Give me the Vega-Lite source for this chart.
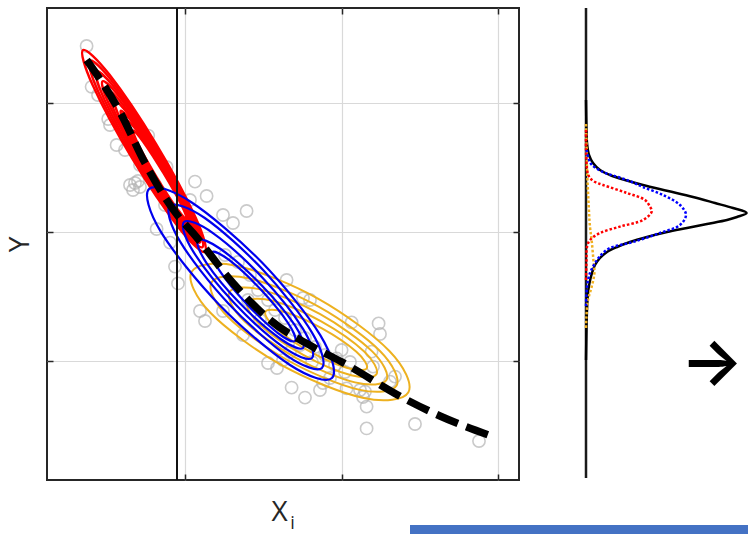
{
  "$schema": "https://vega.github.io/schema/vega-lite/v6.json",
  "width": 472,
  "height": 472,
  "autosize": {"type": "none"},
  "padding": {"left": 47, "top": 8, "right": 229, "bottom": 54},
  "background": "white",
  "config": {"view": {"stroke": "#262626", "strokeWidth": 2}, "font": "Open Sans"},
  "datasets": {
    "one": [{}],
    "pts": [
      {"u":19.8,"v":217},{"u":22.3,"v":196.6},{"u":30.6,"v":180.5},{"u":34.8,"v":167.5},{"u":50.6,"v":172.2},
      {"u":41.5,"v":147.5},{"u":44,"v":148.5},{"u":46.5,"v":146.5},{"u":45.5,"v":149.5},{"u":43,"v":145},
      {"u":59.8,"v":156.5},{"u":74,"v":149.2},{"u":79.8,"v":142},{"u":99.8,"v":134.5},{"u":54.8,"v":125.5},
      {"u":61.5,"v":118.7},{"u":64,"v":106.7},{"u":65.5,"v":98.3},{"u":76.5,"v":84.5},{"u":79,"v":79.5},
      {"u":71.5,"v":140},{"u":88,"v":132.5},{"u":93,"v":128.5},{"u":119.8,"v":100},{"u":128,"v":91},
      {"u":131.5,"v":90},{"u":98,"v":72.5},{"u":88,"v":84.5},{"u":152.3,"v":78.8},{"u":165.8,"v":78.3},
      {"u":166.5,"v":73},{"u":162.3,"v":64.2},{"u":163,"v":56.7},{"u":171.5,"v":49.2},{"u":174,"v":51.7},
      {"u":159,"v":44.2},{"u":158,"v":41.5},{"u":159.8,"v":36.7},{"u":159.8,"v":25.8},{"u":184,"v":28},
      {"u":216,"v":19.5},{"u":149.8,"v":45.8},{"u":156.5,"v":45},{"u":147.3,"v":65},{"u":144.8,"v":60.8},
      {"u":122.3,"v":46.2},{"u":129,"v":41.2},{"u":110.5,"v":58.5},{"u":115,"v":56},{"u":138,"v":48.5},
      {"u":136.5,"v":45},{"u":118,"v":60},{"u":89,"v":112.5},{"u":95.5,"v":109},{"u":101.5,"v":102.5},
      {"u":105.5,"v":95},{"u":110.5,"v":90},{"u":114,"v":85},{"u":119,"v":81},{"u":124,"v":75},
      {"u":129,"v":71},{"u":134,"v":66.5},{"u":139,"v":62.5},{"u":144,"v":57.5},{"u":149,"v":54},
      {"u":126.5,"v":67.5},{"u":121.5,"v":64},{"u":132.5,"v":59},{"u":141.5,"v":51},{"u":151.5,"v":59},
      {"u":106.5,"v":80},{"u":100.5,"v":90},{"u":25.5,"v":192.5},{"u":31.5,"v":177.5},{"u":39,"v":165},
      {"u":46.5,"v":157.5},{"u":54,"v":147.5},{"u":59,"v":137.5},{"u":64,"v":132.5}
    ],
    "ell": [
      {"g":"O1","c":"C","k":0,"u":180.7,"v":43.9},{"g":"O1","c":"C","k":1,"u":171.3,"v":64.4},{"g":"O1","c":"C","k":2,"u":135.7,"v":90.6},{"g":"O1","c":"C","k":3,"u":94.7,"v":107.1},{"g":"O1","c":"C","k":4,"u":72.3,"v":104.1},{"g":"O1","c":"C","k":5,"u":81.7,"v":83.6},{"g":"O1","c":"C","k":6,"u":117.3,"v":57.4},{"g":"O1","c":"C","k":7,"u":158.3,"v":41.0},
      {"g":"O2","c":"C","k":0,"u":174.8,"v":47.2},{"g":"O2","c":"C","k":1,"u":166.6,"v":64.4},{"g":"O2","c":"C","k":2,"u":136.0,"v":86.6},{"g":"O2","c":"C","k":3,"u":101.1,"v":100.8},{"g":"O2","c":"C","k":4,"u":82.2,"v":98.8},{"g":"O2","c":"C","k":5,"u":90.4,"v":81.6},{"g":"O2","c":"C","k":6,"u":121.0,"v":59.5},{"g":"O2","c":"C","k":7,"u":155.9,"v":45.2},
      {"g":"O3","c":"C","k":0,"u":169.8,"v":50.1},{"g":"O3","c":"C","k":1,"u":162.6,"v":64.3},{"g":"O3","c":"C","k":2,"u":136.6,"v":82.9},{"g":"O3","c":"C","k":3,"u":107.0,"v":95.2},{"g":"O3","c":"C","k":4,"u":91.2,"v":93.9},{"g":"O3","c":"C","k":5,"u":98.4,"v":79.7},{"g":"O3","c":"C","k":6,"u":124.4,"v":61.1},{"g":"O3","c":"C","k":7,"u":154.0,"v":48.8},
      {"g":"O4","c":"C","k":0,"u":164.8,"v":53.0},{"g":"O4","c":"C","k":1,"u":158.6,"v":64.2},{"g":"O4","c":"C","k":2,"u":137.1,"v":79.3},{"g":"O4","c":"C","k":3,"u":112.9,"v":89.6},{"g":"O4","c":"C","k":4,"u":100.2,"v":89.0},{"g":"O4","c":"C","k":5,"u":106.4,"v":77.8},{"g":"O4","c":"C","k":6,"u":127.9,"v":62.7},{"g":"O4","c":"C","k":7,"u":152.1,"v":52.4},
      {"g":"O5","c":"C","k":0,"u":159.9,"v":55.9},{"g":"O5","c":"C","k":1,"u":154.7,"v":64.1},{"g":"O5","c":"C","k":2,"u":137.7,"v":75.7},{"g":"O5","c":"C","k":3,"u":118.8,"v":84.0},{"g":"O5","c":"C","k":4,"u":109.2,"v":84.1},{"g":"O5","c":"C","k":5,"u":114.3,"v":76.0},{"g":"O5","c":"C","k":6,"u":131.3,"v":64.3},{"g":"O5","c":"C","k":7,"u":150.2,"v":56.0},
      {"g":"R1","c":"A","k":0,"u":79.0,"v":114.0},{"g":"R1","c":"A","k":1,"u":74.3,"v":131.3},{"g":"R1","c":"A","k":2,"u":54.5,"v":168.1},{"g":"R1","c":"A","k":3,"u":31.2,"v":202.7},{"g":"R1","c":"A","k":4,"u":18.0,"v":215.0},{"g":"R1","c":"A","k":5,"u":22.7,"v":197.7},{"g":"R1","c":"A","k":6,"u":42.5,"v":160.9},{"g":"R1","c":"A","k":7,"u":65.8,"v":126.3},
      {"g":"R15","c":"A","k":0,"u":77.7,"v":116.4},{"g":"R15","c":"A","k":1,"u":73.2,"v":132.3},{"g":"R15","c":"A","k":2,"u":54.9,"v":166.2},{"g":"R15","c":"A","k":3,"u":33.4,"v":198.3},{"g":"R15","c":"A","k":4,"u":21.4,"v":209.7},{"g":"R15","c":"A","k":5,"u":25.8,"v":193.8},{"g":"R15","c":"A","k":6,"u":44.2,"v":159.8},{"g":"R15","c":"A","k":7,"u":65.7,"v":127.8},
      {"g":"R2","c":"A","k":0,"u":76.4,"v":118.7},{"g":"R2","c":"A","k":1,"u":72.1,"v":133.3},{"g":"R2","c":"A","k":2,"u":55.2,"v":164.3},{"g":"R2","c":"A","k":3,"u":35.6,"v":193.8},{"g":"R2","c":"A","k":4,"u":24.7,"v":204.3},{"g":"R2","c":"A","k":5,"u":28.9,"v":189.8},{"g":"R2","c":"A","k":6,"u":45.8,"v":158.7},{"g":"R2","c":"A","k":7,"u":65.5,"v":129.2},
      {"g":"R25","c":"A","k":0,"u":75.3,"v":120.7},{"g":"R25","c":"A","k":1,"u":71.3,"v":134.0},{"g":"R25","c":"A","k":2,"u":55.7,"v":162.5},{"g":"R25","c":"A","k":3,"u":37.7,"v":189.7},{"g":"R25","c":"A","k":4,"u":27.8,"v":199.4},{"g":"R25","c":"A","k":5,"u":31.8,"v":186.1},{"g":"R25","c":"A","k":6,"u":47.4,"v":157.5},{"g":"R25","c":"A","k":7,"u":65.4,"v":130.4},
      {"g":"R3","c":"A","k":0,"u":74.2,"v":122.6},{"g":"R3","c":"A","k":1,"u":70.4,"v":134.6},{"g":"R3","c":"A","k":2,"u":56.1,"v":160.7},{"g":"R3","c":"A","k":3,"u":39.7,"v":185.5},{"g":"R3","c":"A","k":4,"u":30.8,"v":194.5},{"g":"R3","c":"A","k":5,"u":34.6,"v":182.4},{"g":"R3","c":"A","k":6,"u":48.9,"v":156.3},{"g":"R3","c":"A","k":7,"u":65.3,"v":131.5},
      {"g":"R35","c":"A","k":0,"u":73.2,"v":124.5},{"g":"R35","c":"A","k":1,"u":69.6,"v":135.3},{"g":"R35","c":"A","k":2,"u":56.6,"v":158.9},{"g":"R35","c":"A","k":3,"u":41.8,"v":181.4},{"g":"R35","c":"A","k":4,"u":33.9,"v":189.6},{"g":"R35","c":"A","k":5,"u":37.4,"v":178.7},{"g":"R35","c":"A","k":6,"u":50.4,"v":155.2},{"g":"R35","c":"A","k":7,"u":65.2,"v":132.7},
      {"g":"R4","c":"A","k":0,"u":72.1,"v":126.4},{"g":"R4","c":"A","k":1,"u":68.8,"v":136.0},{"g":"R4","c":"A","k":2,"u":57.1,"v":157.1},{"g":"R4","c":"A","k":3,"u":43.9,"v":177.2},{"g":"R4","c":"A","k":4,"u":36.9,"v":184.6},{"g":"R4","c":"A","k":5,"u":40.2,"v":175.0},{"g":"R4","c":"A","k":6,"u":51.9,"v":154.0},{"g":"R4","c":"A","k":7,"u":65.1,"v":133.8},
      {"g":"R45","c":"A","k":0,"u":71.0,"v":128.3},{"g":"R45","c":"A","k":1,"u":68.0,"v":136.8},{"g":"R45","c":"A","k":2,"u":57.7,"v":155.3},{"g":"R45","c":"A","k":3,"u":46.1,"v":173.1},{"g":"R45","c":"A","k":4,"u":40.0,"v":179.7},{"g":"R45","c":"A","k":5,"u":43.0,"v":171.3},{"g":"R45","c":"A","k":6,"u":53.4,"v":152.8},{"g":"R45","c":"A","k":7,"u":65.0,"v":134.9},
      {"g":"R5","c":"A","k":0,"u":69.9,"v":130.2},{"g":"R5","c":"A","k":1,"u":67.2,"v":137.5},{"g":"R5","c":"A","k":2,"u":58.2,"v":153.5},{"g":"R5","c":"A","k":3,"u":48.2,"v":169.0},{"g":"R5","c":"A","k":4,"u":43.1,"v":174.8},{"g":"R5","c":"A","k":5,"u":45.8,"v":167.5},{"g":"R5","c":"A","k":6,"u":54.8,"v":151.5},{"g":"R5","c":"A","k":7,"u":64.8,"v":136.0},
      {"g":"B1","c":"B","k":0,"u":142.5,"v":51.0},{"g":"B1","c":"B","k":1,"u":136.7,"v":72.3},{"g":"B1","c":"B","k":2,"u":107.5,"v":108.7},{"g":"B1","c":"B","k":3,"u":72.0,"v":139.0},{"g":"B1","c":"B","k":4,"u":51.0,"v":145.5},{"g":"B1","c":"B","k":5,"u":56.8,"v":124.3},{"g":"B1","c":"B","k":6,"u":86.0,"v":87.8},{"g":"B1","c":"B","k":7,"u":121.5,"v":57.5},
      {"g":"B2","c":"B","k":0,"u":137.5,"v":56.0},{"g":"B2","c":"B","k":1,"u":132.5,"v":73.7},{"g":"B2","c":"B","k":2,"u":108.3,"v":104.7},{"g":"B2","c":"B","k":3,"u":78.9,"v":131.0},{"g":"B2","c":"B","k":4,"u":61.5,"v":137.0},{"g":"B2","c":"B","k":5,"u":66.5,"v":119.3},{"g":"B2","c":"B","k":6,"u":90.7,"v":88.3},{"g":"B2","c":"B","k":7,"u":120.1,"v":62.1},
      {"g":"B3","c":"B","k":0,"u":132.5,"v":61.0},{"g":"B3","c":"B","k":1,"u":128.0,"v":75.6},{"g":"B3","c":"B","k":2,"u":107.4,"v":101.5},{"g":"B3","c":"B","k":3,"u":82.8,"v":123.6},{"g":"B3","c":"B","k":4,"u":68.5,"v":129.0},{"g":"B3","c":"B","k":5,"u":73.0,"v":114.4},{"g":"B3","c":"B","k":6,"u":93.6,"v":88.5},{"g":"B3","c":"B","k":7,"u":118.2,"v":66.4},
      {"g":"B4","c":"B","k":0,"u":128.0,"v":66.0},{"g":"B4","c":"B","k":1,"u":123.9,"v":77.4},{"g":"B4","c":"B","k":2,"u":106.8,"v":97.9},{"g":"B4","c":"B","k":3,"u":86.8,"v":115.5},{"g":"B4","c":"B","k":4,"u":75.5,"v":120.0},{"g":"B4","c":"B","k":5,"u":79.7,"v":108.6},{"g":"B4","c":"B","k":6,"u":96.7,"v":88.1},{"g":"B4","c":"B","k":7,"u":116.8,"v":70.5},
      {"g":"B5","c":"B","k":0,"u":124.0,"v":69.5},{"g":"B5","c":"B","k":1,"u":120.5,"v":78.5},{"g":"B5","c":"B","k":2,"u":106.9,"v":95.2},{"g":"B5","c":"B","k":3,"u":91.2,"v":109.9},{"g":"B5","c":"B","k":4,"u":82.5,"v":114.0},{"g":"B5","c":"B","k":5,"u":86.0,"v":105.1},{"g":"B5","c":"B","k":6,"u":99.6,"v":88.3},{"g":"B5","c":"B","k":7,"u":115.3,"v":73.6}
    ],
    "path": [
      {"k":0,"u":19.85,"v":210},{"k":1,"u":36.5,"v":184},{"k":2,"u":49,"v":158.5},{"k":3,"u":65.5,"v":132},
      {"k":4,"u":73,"v":123.5},{"k":5,"u":93,"v":98.5},{"k":6,"u":111.5,"v":80},{"k":7,"u":133,"v":66.5},
      {"k":8,"u":146.5,"v":59.5},{"k":9,"u":180,"v":40},{"k":10,"u":196.5,"v":32},{"k":11,"u":223.5,"v":21.5}
    ],
    "dens": [
      {"s":"K","k":0,"v":190,"d":0},{"s":"K","k":1,"v":175,"d":0.25},{"s":"K","k":2,"v":168.5,"d":0.5},{"s":"K","k":3,"v":162.5,"d":1.5},
      {"s":"K","k":4,"v":158.5,"d":3.5},{"s":"K","k":5,"v":155,"d":7},{"s":"K","k":6,"v":152.5,"d":12},{"s":"K","k":7,"v":150,"d":19.5},
      {"s":"K","k":8,"v":147.5,"d":28.5},{"s":"K","k":9,"v":144.5,"d":41},{"s":"K","k":10,"v":141.5,"d":53.5},{"s":"K","k":11,"v":138.5,"d":64.5},
      {"s":"K","k":12,"v":136,"d":73.5},{"s":"K","k":13,"v":133.5,"d":80.3},{"s":"K","k":14,"v":131.5,"d":75.5},{"s":"K","k":15,"v":130,"d":70.5},
      {"s":"K","k":16,"v":128,"d":60.5},{"s":"K","k":17,"v":126,"d":50.5},{"s":"K","k":18,"v":124,"d":40.5},{"s":"K","k":19,"v":121.5,"d":30.5},
      {"s":"K","k":20,"v":119,"d":22},{"s":"K","k":21,"v":116.5,"d":15.5},{"s":"K","k":22,"v":114,"d":10.5},{"s":"K","k":23,"v":111,"d":7},
      {"s":"K","k":24,"v":107.5,"d":4.5},{"s":"K","k":25,"v":103.5,"d":3},{"s":"K","k":26,"v":98.5,"d":1.75},{"s":"K","k":27,"v":93.5,"d":1},
      {"s":"K","k":28,"v":85,"d":0.5},{"s":"K","k":29,"v":75,"d":0.25},{"s":"K","k":30,"v":60,"d":0},
      {"s":"B","k":0,"v":165,"d":0.25},{"s":"B","k":1,"v":160,"d":1.5},{"s":"B","k":2,"v":157.5,"d":3},{"s":"B","k":3,"v":154,"d":8.5},
      {"s":"B","k":4,"v":151.5,"d":16},{"s":"B","k":5,"v":149,"d":23},{"s":"B","k":6,"v":146.5,"d":28.5},{"s":"B","k":7,"v":142.5,"d":38.5},
      {"s":"B","k":8,"v":137.5,"d":47},{"s":"B","k":9,"v":132.5,"d":50},{"s":"B","k":10,"v":127.5,"d":47},{"s":"B","k":11,"v":123.5,"d":37},
      {"s":"B","k":12,"v":119,"d":23.5},{"s":"B","k":13,"v":116,"d":12},{"s":"B","k":14,"v":113,"d":8},{"s":"B","k":15,"v":110,"d":5.5},
      {"s":"B","k":16,"v":103.5,"d":2},{"s":"B","k":17,"v":96.5,"d":0.5},{"s":"B","k":18,"v":86.5,"d":0},
      {"s":"A","k":0,"v":175,"d":0},{"s":"A","k":1,"v":165,"d":0},{"s":"A","k":2,"v":160,"d":0.2},{"s":"A","k":3,"v":156.5,"d":0.4},
      {"s":"A","k":4,"v":153,"d":1},{"s":"A","k":5,"v":151,"d":2},{"s":"A","k":6,"v":149,"d":4.5},{"s":"A","k":7,"v":147.5,"d":8.5},
      {"s":"A","k":8,"v":143.5,"d":20.5},{"s":"A","k":9,"v":140,"d":29.5},{"s":"A","k":10,"v":137,"d":31.8},{"s":"A","k":11,"v":134.2,"d":32.85},
      {"s":"A","k":12,"v":130,"d":28.5},{"s":"A","k":13,"v":126.7,"d":17},{"s":"A","k":14,"v":123.5,"d":7},{"s":"A","k":15,"v":120,"d":2},
      {"s":"A","k":16,"v":116.5,"d":0.5},{"s":"A","k":17,"v":110,"d":0.25},{"s":"A","k":18,"v":100,"d":0},
      {"s":"C","k":0,"v":178,"d":0},{"s":"C","k":1,"v":166.5,"d":0.3},{"s":"C","k":2,"v":156.5,"d":0.5},{"s":"C","k":3,"v":140,"d":1.2},
      {"s":"C","k":4,"v":126.5,"d":2},{"s":"C","k":5,"v":120,"d":2.8},{"s":"C","k":6,"v":110,"d":3.7},{"s":"C","k":7,"v":103.5,"d":4.2},
      {"s":"C","k":8,"v":96.5,"d":2.8},{"s":"C","k":9,"v":90,"d":1},{"s":"C","k":10,"v":81.5,"d":0.2},{"s":"C","k":11,"v":75,"d":0}
    ]
  },
  "layer": [
    {
      "layer": [
        {
          "data": {"name": "pts"},
          "mark": {"type": "point", "shape": "circle", "filled": false, "color": "#b4b4b4", "strokeWidth": 1.6, "size": 150},
          "encoding": {
            "x": {"field": "u", "type": "quantitative", "scale": {"domain": [0, 236], "nice": false, "zero": false},
              "axis": {"orient": "bottom", "values": [68.75, 147.5, 225.5], "labels": false, "domain": false, "ticks": true, "tickSize": -6, "tickWidth": 1.5, "tickColor": "#262626",
                "grid": true, "gridColor": "#d9d9d9", "gridWidth": 1.2, "title": "X", "titleFont": "Open Sans", "titleFontSize": 28, "titleFontWeight": "normal", "titleColor": "#262626",
                "titleX": 232, "titleY": 40, "titleAlign": "center", "titleBaseline": "alphabetic"}},
            "y": {"field": "v", "type": "quantitative", "scale": {"domain": [0, 236], "nice": false, "zero": false},
              "axis": {"orient": "left", "values": [59.75, 124.25, 188.5], "labels": false, "domain": false, "ticks": true, "tickSize": -6, "tickWidth": 1.5, "tickColor": "#262626",
                "grid": true, "gridColor": "#d9d9d9", "gridWidth": 1.2, "title": "Y", "titleFont": "Open Sans", "titleFontSize": 28, "titleFontWeight": "normal", "titleColor": "#262626",
                "titleX": -27, "titleY": 236, "titleAngle": -90, "titleAlign": "center", "titleBaseline": "middle"}}
          }
        },
        {
          "data": {"name": "ell"},
          "transform": [{"filter": "datum.c === 'C'"}],
          "mark": {"type": "line", "interpolate": "cardinal-closed", "color": "#edb120", "strokeWidth": 2},
          "encoding": {
            "x": {"field": "u", "type": "quantitative", "axis": null},
            "y": {"field": "v", "type": "quantitative", "axis": null},
            "detail": {"field": "g"},
            "order": {"field": "k", "type": "quantitative"}
          }
        },
        {
          "data": {"name": "ell"},
          "transform": [{"filter": "datum.c === 'A'"}],
          "mark": {"type": "line", "interpolate": "cardinal-closed", "color": "#ff0000", "strokeWidth": 2.4},
          "encoding": {
            "x": {"field": "u", "type": "quantitative", "axis": null},
            "y": {"field": "v", "type": "quantitative", "axis": null},
            "detail": {"field": "g"},
            "order": {"field": "k", "type": "quantitative"}
          }
        },
        {
          "data": {"name": "ell"},
          "transform": [{"filter": "datum.c === 'B'"}],
          "mark": {"type": "line", "interpolate": "cardinal-closed", "color": "#0000ee", "strokeWidth": 2.2},
          "encoding": {
            "x": {"field": "u", "type": "quantitative", "axis": null},
            "y": {"field": "v", "type": "quantitative", "axis": null},
            "detail": {"field": "g"},
            "order": {"field": "k", "type": "quantitative"}
          }
        },
        {
          "data": {"name": "one"},
          "mark": {"type": "rule", "color": "#111111", "strokeWidth": 2},
          "encoding": {
            "x": {"datum": 65, "type": "quantitative",
              "axis": {"orient": "top", "values": [68.75, 147.5, 225.5], "labels": false, "domain": false, "ticks": true, "tickSize": -6, "tickWidth": 1.5, "tickColor": "#262626", "grid": false, "title": null}},
            "y": {"datum": 0, "type": "quantitative",
              "axis": {"orient": "right", "values": [59.75, 124.25, 188.5], "labels": false, "domain": false, "ticks": true, "tickSize": -6, "tickWidth": 1.5, "tickColor": "#262626", "grid": false, "title": null}},
            "y2": {"datum": 236}
          }
        },
        {
          "data": {"name": "path"},
          "mark": {"type": "line", "interpolate": "monotone", "color": "#000000", "strokeWidth": 7.5, "strokeDash": [23, 9], "strokeCap": "butt"},
          "encoding": {
            "x": {"field": "u", "type": "quantitative", "axis": null},
            "y": {"field": "v", "type": "quantitative", "axis": null},
            "order": {"field": "k", "type": "quantitative"}
          }
        },
        {
          "data": {"name": "one"},
          "mark": {"type": "text", "text": "i", "font": "Open Sans", "fontSize": 18, "color": "#262626", "align": "center", "baseline": "bottom"},
          "encoding": {
            "x": {"datum": 122.75, "type": "quantitative", "axis": null},
            "y": {"datum": -26.6, "type": "quantitative", "axis": null}
          }
        }
      ],
      "resolve": {"axis": {"x": "independent", "y": "independent"}}
    },
    {
      "layer": [
        {
          "data": {"name": "one"},
          "mark": {"type": "rule", "color": "#1a1a1a", "strokeWidth": 2.5},
          "encoding": {
            "x": {"datum": 0, "type": "quantitative", "scale": {"domain": [-269.5, -33.5], "nice": false, "zero": false}, "axis": null},
            "y": {"datum": 1, "type": "quantitative", "scale": {"domain": [0, 236], "nice": false, "zero": false}, "axis": null},
            "y2": {"datum": 236}
          }
        },
        {
          "data": {"name": "dens"},
          "transform": [{"filter": "datum.s === 'K'"}],
          "mark": {"type": "line", "interpolate": "catmull-rom", "color": "#000000", "strokeWidth": 2.5},
          "encoding": {
            "x": {"field": "d", "type": "quantitative", "axis": null},
            "y": {"field": "v", "type": "quantitative", "axis": null},
            "order": {"field": "k", "type": "quantitative"}
          }
        },
        {
          "data": {"name": "dens"},
          "transform": [{"filter": "datum.s === 'C'"}],
          "mark": {"type": "line", "interpolate": "catmull-rom", "color": "#f0b020", "strokeWidth": 2.5, "strokeDash": [2.5, 2]},
          "encoding": {
            "x": {"field": "d", "type": "quantitative", "axis": null},
            "y": {"field": "v", "type": "quantitative", "axis": null},
            "order": {"field": "k", "type": "quantitative"}
          }
        },
        {
          "data": {"name": "dens"},
          "transform": [{"filter": "datum.s === 'A'"}],
          "mark": {"type": "line", "interpolate": "catmull-rom", "color": "#ff0000", "strokeWidth": 2.5, "strokeDash": [2.5, 2]},
          "encoding": {
            "x": {"field": "d", "type": "quantitative", "axis": null},
            "y": {"field": "v", "type": "quantitative", "axis": null},
            "order": {"field": "k", "type": "quantitative"}
          }
        },
        {
          "data": {"name": "dens"},
          "transform": [{"filter": "datum.s === 'B'"}],
          "mark": {"type": "line", "interpolate": "catmull-rom", "color": "#0000ff", "strokeWidth": 2.5, "strokeDash": [2.5, 2]},
          "encoding": {
            "x": {"field": "d", "type": "quantitative", "axis": null},
            "y": {"field": "v", "type": "quantitative", "axis": null},
            "order": {"field": "k", "type": "quantitative"}
          }
        },
        {
          "data": {"name": "one"},
          "mark": {"type": "text", "text": "→", "font": "Inter", "fontSize": 66, "fontWeight": 600, "color": "#000000", "align": "center", "baseline": "middle"},
          "encoding": {
            "x": {"datum": 63, "type": "quantitative", "axis": null},
            "y": {"datum": 58, "type": "quantitative", "axis": null}
          }
        },
        {
          "data": {"name": "one"},
          "mark": {"type": "rect", "color": "#4472c4"},
          "encoding": {
            "x": {"datum": -88, "type": "quantitative", "axis": null},
            "x2": {"datum": 81},
            "y": {"datum": -22.5, "type": "quantitative", "axis": null},
            "y2": {"datum": -27}
          }
        }
      ]
    }
  ],
  "resolve": {"scale": {"x": "independent", "y": "independent"}, "axis": {"x": "independent", "y": "independent"}}
}
